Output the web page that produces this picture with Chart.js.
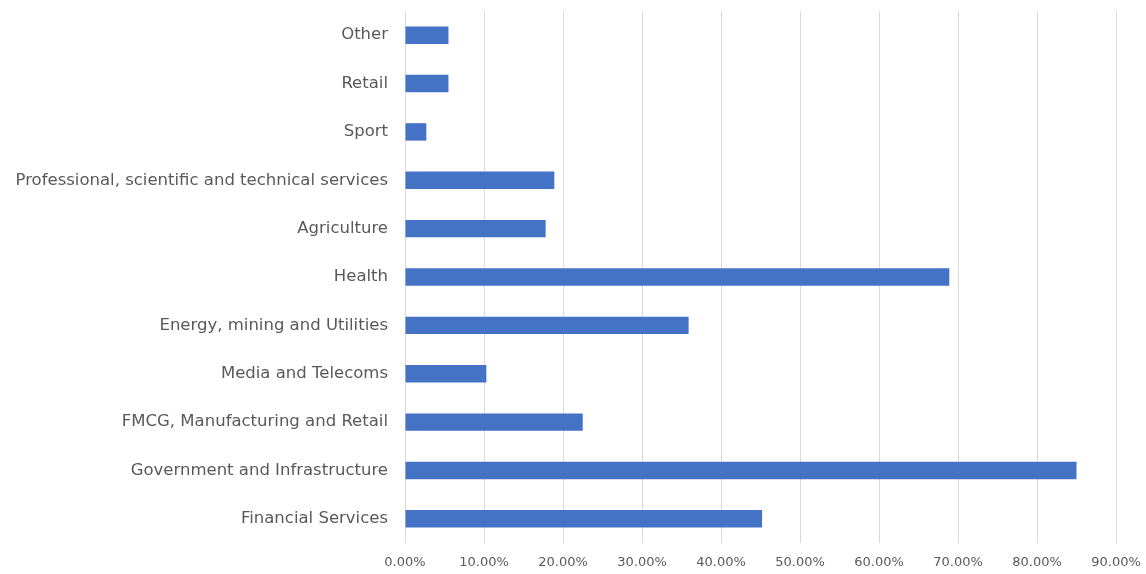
<!DOCTYPE html>
<html>
<head>
<meta charset="utf-8">
<script src="https://cdn.jsdelivr.net/npm/chart.js@4"></script>
<style>
  html, body { margin: 0; padding: 0; background: #fff; }
  #wrap { width: 1146px; height: 574px; }
</style>
</head>
<body>
<div id="wrap"><canvas id="barChart"></canvas></div>
<script>
"use strict"

// top to bottom as in the picture
const sectors = ["Other", "Retail", "Sport", "Professional, scientific and technical services",
  "Agriculture", "Health", "Energy, mining and Utilities", "Media and Telecoms",
  "FMCG, Manufacturing and Retail", "Government and Infrastructure", "Financial Services"];
const shares = [5.5, 5.5, 2.7, 18.9, 17.8, 68.9, 35.9, 10.3, 22.5, 85.0, 45.2];
const xTicks = [0, 10, 20, 30, 40, 50, 60, 70, 80, 90];

const ctx = document.getElementById("barChart").getContext('2d');
const myBarChart = new Chart(ctx, {
  type: 'bar',
  data: {
    labels: sectors,
    datasets: [{
      data: shares,
      backgroundColor: '#4472C4',
      categoryPercentage: 1,
      barPercentage: 0.36
    }]
  },
  options: {
    indexAxis: 'y',
    responsive: true,
    maintainAspectRatio: false,
    animation: false,
    layout: { padding: { top: 11, right: 30, left: 0, bottom: 0 } },
    plugins: { legend: { display: false }, tooltip: { enabled: false } },
    scales: {
      x: {
        min: 0,
        max: 90,
        afterBuildTicks: axis => { axis.ticks = xTicks.map(v => ({ value: v })); },
        afterFit: axis => { axis.height = 31; },
        // invisible tick marks push the labels down without widening the side padding
        grid: { color: '#d9d9d9', drawTicks: true, tickLength: 12, tickColor: 'rgba(0,0,0,0)' },
        border: { display: false },
        ticks: {
          padding: 0,
          color: '#595959',
          font: { family: 'DejaVu Sans', size: 13 },
          callback: v => v.toFixed(2) + '%'
        }
      },
      y: {
        afterFit: axis => { axis.width = 405; },
        // hidden tick marks give the gap between labels and bars
        grid: { display: false, drawTicks: true, tickLength: 17 },
        border: { display: false },
        ticks: {
          padding: 0,
          color: '#595959',
          font: { family: 'DejaVu Sans', size: 16.5 }
        }
      }
    }
  }
});
</script>
</body>
</html>
